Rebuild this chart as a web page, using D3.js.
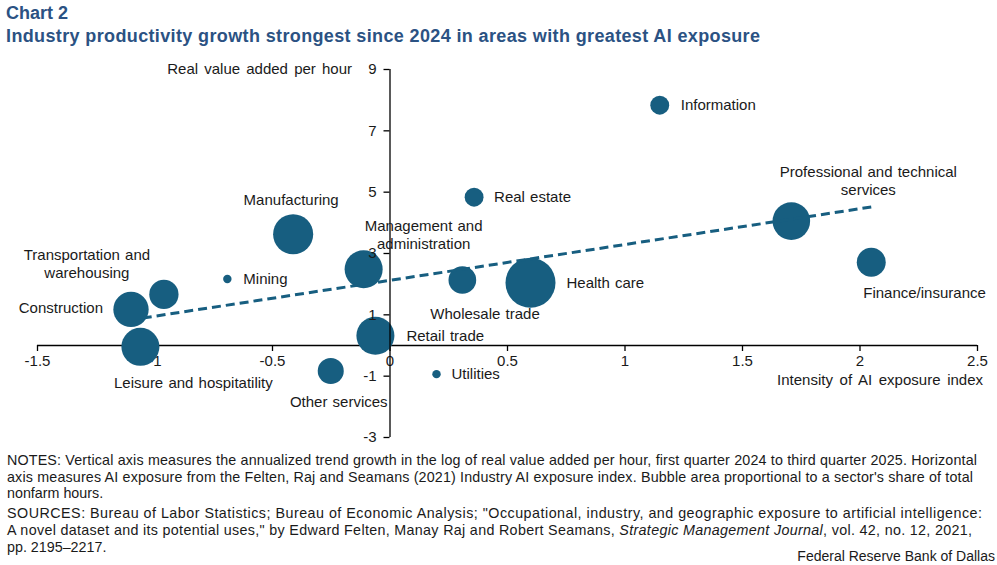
<!DOCTYPE html>
<html>
<head>
<meta charset="utf-8">
<script src="https://cdn.jsdelivr.net/npm/d3@7"></script>
<style>
  body { margin: 0; background: #fff; }
  svg { display: block; font-family: "Liberation Sans", Arial, sans-serif; }
</style>
</head>
<body>
<svg id="chart" width="997" height="565"></svg>
<script>
// industries, AI exposure index (x), productivity growth (y), share of nonfarm hours (bubble area)
const industries = ['Information', 'Real estate', 'Professional and technical services', 'Finance/insurance',
  'Health care', 'Wholesale trade', 'Management and administration', 'Manufacturing', 'Mining',
  'Transportation and warehousing', 'Construction', 'Leisure and hospitatility', 'Retail trade',
  'Other services', 'Utilities'];
const aiExposure = [1.15, 0.36, 1.71, 2.05, 0.60, 0.31, -0.11, -0.41, -0.69, -0.96, -1.10, -1.06, -0.06, -0.25, 0.20];
const productivity = [7.82, 4.82, 4.04, 2.70, 2.03, 2.12, 2.47, 3.61, 2.15, 1.65, 1.16, -0.06, 0.30, -0.85, -0.95];
const hoursShare = [2.0, 2.0, 7.9, 4.7, 14.0, 4.3, 8.1, 9.0, 0.4, 4.8, 7.0, 8.1, 8.1, 3.8, 0.4];

// fitted trend line endpoints
const trendX = [-1.05, 2.05];
const trendY = [0.88, 4.50];

const xTicks = [-1.5, -1, -0.5, 0, 0.5, 1, 1.5, 2, 2.5];
const yTicks = [-3, -1, 1, 3, 5, 7, 9];

const notes = [
  'NOTES: Vertical axis measures the annualized trend growth in the log of real value added per hour, first quarter 2024 to third quarter 2025. Horizontal',
  "axis measures AI exposure from the Felten, Raj and Seamans (2021) Industry AI exposure index. Bubble area proportional to a sector's share of total",
  'nonfarm hours.'
];

// label placement relative to bubble centre (px)
const labelPos = {
  'Information': { dx: 21, dy: [0], anchor: 'start' },
  'Real estate': { dx: 20, dy: [0], anchor: 'start' },
  'Professional and technical services': { dx: 77, dy: [-49, -31], anchor: 'middle', lines: ['Professional and technical', 'services'] },
  'Finance/insurance': { dx: -8, dy: [31], anchor: 'start' },
  'Health care': { dx: 36, dy: [0], anchor: 'start' },
  'Wholesale trade': { dx: -32, dy: [34], anchor: 'start' },
  'Management and administration': { dx: 60, dy: [-44, -26], anchor: 'middle', lines: ['Management and', 'administration'] },
  'Manufacturing': { dx: -2, dy: [-35], anchor: 'middle' },
  'Mining': { dx: 16, dy: [0], anchor: 'start' },
  'Transportation and warehousing': { dx: -77, dy: [-40, -22], anchor: 'middle', lines: ['Transportation and', 'warehousing'] },
  'Construction': { dx: -28, dy: [-2], anchor: 'end' },
  'Leisure and hospitatility': { dx: 53, dy: [36], anchor: 'middle' },
  'Retail trade': { dx: 31, dy: [0], anchor: 'start' },
  'Other services': { dx: 8, dy: [31], anchor: 'middle' },
  'Utilities': { dx: 15, dy: [0], anchor: 'start' }
};

const BUBBLE = '#175e80';
const TITLE = '#2b5283';
const TEXT = '#1a1a1a';

const svg = d3.select('#chart');

svg.append('text').attr('x', 6).attr('y', 19)
  .attr('fill', TITLE).attr('font-size', '18px').attr('font-weight', 'bold')
  .text('Chart 2');
svg.append('text').attr('x', 6).attr('y', 42)
  .attr('fill', TITLE).attr('font-size', '18px').attr('font-weight', 'bold')
  .attr('textLength', 754).attr('lengthAdjust', 'spacing')
  .text('Industry productivity growth strongest since 2024 in areas with greatest AI exposure');

const x = d3.scaleLinear().domain([-1.5, 2.5]).range([37, 977]);
const y = d3.scaleLinear().domain([-3, 9]).range([437, 69]);
const r = d3.scaleSqrt().domain([0, 14]).range([0, 25]);

const data = industries.map((name, i) => ({
  name, x: aiExposure[i], y: productivity[i], share: hoursShare[i]
}));

// X axis at y = 0
svg.append('g').attr('transform', `translate(0,${y(0)})`)
  .call(d3.axisBottom(x).tickValues(xTicks).tickSize(6).tickPadding(4).tickFormat(d3.format('')))
  .call(g => g.select('.domain').attr('stroke', '#000').attr('stroke-width', 1.3).attr('d', `M${x(-1.5)},0.5H${x(2.5)}`))
  .call(g => g.selectAll('.tick line').attr('stroke', '#000').attr('stroke-width', 1.3))
  .call(g => g.selectAll('.tick text').attr('fill', TEXT).attr('font-size', '15px')
    .attr('font-family', '"Liberation Sans", Arial, sans-serif').text(d => d3.format('')(d).replace('−', '-')));

// bubbles
svg.append('g').selectAll('circle').data(data).join('circle')
  .attr('cx', d => x(d.x)).attr('cy', d => y(d.y)).attr('r', d => r(d.share))
  .attr('fill', BUBBLE);

// trend line
svg.append('path')
  .datum(trendX.map((v, i) => [v, trendY[i]]))
  .attr('d', d3.line().x(d => x(d[0])).y(d => y(d[1])))
  .attr('fill', 'none').attr('stroke', BUBBLE).attr('stroke-width', 3)
  .attr('stroke-dasharray', '9,5');

// Y axis at x = 0
svg.append('g').attr('transform', `translate(${x(0)},0)`)
  .call(d3.axisLeft(y).tickValues(yTicks).tickSize(6).tickPadding(7))
  .call(g => g.select('.domain').attr('stroke', '#000').attr('stroke-width', 1.3).attr('d', `M0.5,${y(9)}V${y(-3)}`))
  .call(g => g.selectAll('.tick line').attr('stroke', '#000').attr('stroke-width', 1.3))
  .call(g => g.selectAll('.tick text').attr('fill', TEXT).attr('font-size', '15px')
    .attr('font-family', '"Liberation Sans", Arial, sans-serif').text(d => String(d)));

svg.append('text').attr('x', 352).attr('y', y(9)).attr('dy', '0.35em')
  .attr('text-anchor', 'end').attr('fill', TEXT).attr('font-size', '15px')
  .style('word-spacing', '2px')
  .text('Real value added per hour');
svg.append('text').attr('x', 983).attr('y', 380).attr('dy', '0.35em')
  .attr('text-anchor', 'end').attr('fill', TEXT).attr('font-size', '15px')
  .style('word-spacing', '2.5px')
  .text('Intensity of AI exposure index');

// bubble labels
const labels = svg.append('g').selectAll('text').data(data).join('text')
  .attr('text-anchor', d => labelPos[d.name].anchor)
  .attr('fill', TEXT).attr('font-size', '15px')
  .style('word-spacing', '1px');
labels.each(function (d) {
  const p = labelPos[d.name];
  const lines = p.lines || [d.name];
  d3.select(this).selectAll('tspan').data(lines).join('tspan')
    .attr('x', x(d.x) + p.dx)
    .attr('y', (l, i) => y(d.y) + p.dy[i])
    .attr('dy', '0.35em')
    .text(l => l);
});

// notes and sources
const noteY = [460, 477, 493];
const noteLen = [970, 966, null];
svg.append('g').selectAll('text').data(notes).join('text')
  .attr('x', 7).attr('y', (d, i) => noteY[i]).attr('dy', '0.35em')
  .attr('fill', TEXT).attr('font-size', '14.3px')
  .attr('textLength', (d, i) => noteLen[i])
  .attr('lengthAdjust', 'spacing')
  .text(d => d);

const src = svg.append('g').attr('fill', TEXT).attr('font-size', '14.3px');
src.append('text').attr('x', 7).attr('y', 513).attr('dy', '0.35em')
  .attr('textLength', 975).attr('lengthAdjust', 'spacing')
  .text('SOURCES: Bureau of Labor Statistics; Bureau of Economic Analysis; "Occupational, industry, and geographic exposure to artificial intelligence:');
const src2 = src.append('text').attr('x', 7).attr('y', 530).attr('dy', '0.35em')
  .attr('textLength', 965).attr('lengthAdjust', 'spacing');
src2.append('tspan').text('A novel dataset and its potential uses," by Edward Felten, Manay Raj and Robert Seamans, ');
src2.append('tspan').attr('font-style', 'italic').text('Strategic Management Journal');
src2.append('tspan').text(', vol. 42, no. 12, 2021,');
src.append('text').attr('x', 7).attr('y', 547).attr('dy', '0.35em')
  .text('pp. 2195\u20132217.');

svg.append('text').attr('x', 995).attr('y', 556).attr('dy', '0.35em')
  .attr('text-anchor', 'end').attr('fill', TEXT).attr('font-size', '14px')
  .text('Federal Reserve Bank of Dallas');
</script>
</body>
</html>
